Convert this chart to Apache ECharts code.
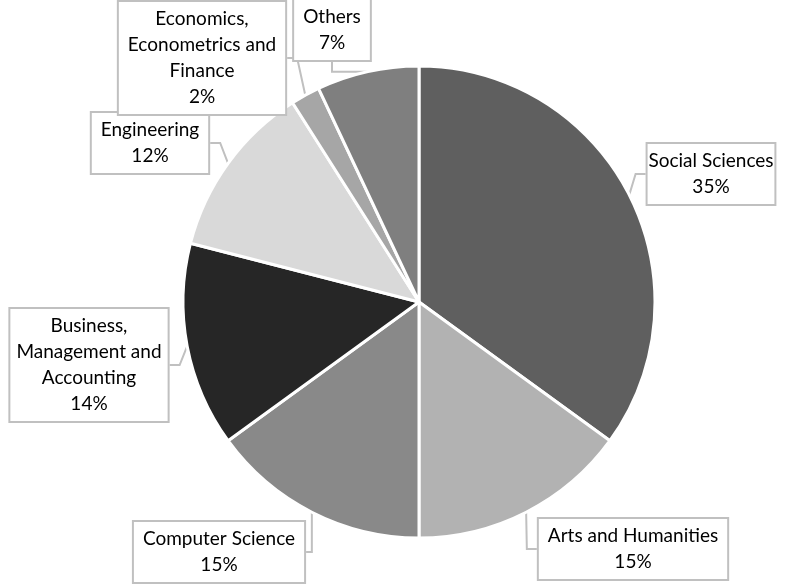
<!DOCTYPE html>
<html>
<head>
<meta charset="utf-8">
<script src="https://cdn.jsdelivr.net/npm/echarts@6/dist/echarts.min.js"></script>
<style>
  html, body { margin: 0; padding: 0; background: #fff; }
  #chart { width: 790px; height: 585px; }
</style>
</head>
<body>
<div id="chart"></div>
<script>
// subject areas, clockwise from 12 o'clock
const subjects = [
    'Social Sciences',
    'Arts and Humanities',
    'Computer Science',
    'Business,\nManagement and\nAccounting',
    'Engineering',
    'Economics,\nEconometrics and\nFinance',
    'Others'
]
const shares = [35, 15, 15, 14, 12, 2, 7]
const sliceColors = ['#5f5f5f', '#b2b2b2', '#898989', '#262626', '#d9d9d9', '#a6a6a6', '#7f7f7f']
// where each callout box sits (center of box)
const calloutPos = [[711, 174], [633, 549], [219, 552], [89, 365], [150, 143], [202, 58], [332, 30]]

const chart = echarts.init(document.getElementById('chart'))
const option = {
    animation: false,
    series: [
        {
            type: 'pie',
            center: [419, 302],
            radius: 236,
            startAngle: 90,
            clockwise: true,
            data: subjects.map((name, i) => ({
                name,
                value: shares[i],
                itemStyle: { color: sliceColors[i] }
            })),
            itemStyle: { borderColor: '#fff', borderWidth: 3 },
            label: {
                show: true,
                formatter: '{b}\n{c}%',
                fontFamily: 'Lato',
                fontSize: 19,
                lineHeight: 26,
                color: '#000',
                align: 'center',
                overflow: 'none',
                backgroundColor: '#fff',
                borderColor: '#c0c0c0',
                borderWidth: 2,
                padding: [4, 9]
            },
            labelLine: {
                show: true,
                length: 10,
                length2: 10,
                lineStyle: { color: '#c0c0c0', width: 2 }
            },
            labelLayout: function (params) {
                const p = calloutPos[params.dataIndex]
                return {
                    x: p[0],
                    y: p[1],
                    align: 'center',
                    verticalAlign: 'middle'
                }
            }
        }
    ]
}
chart.setOption(option)
window.addEventListener('resize', chart.resize)
</script>
</body>
</html>
